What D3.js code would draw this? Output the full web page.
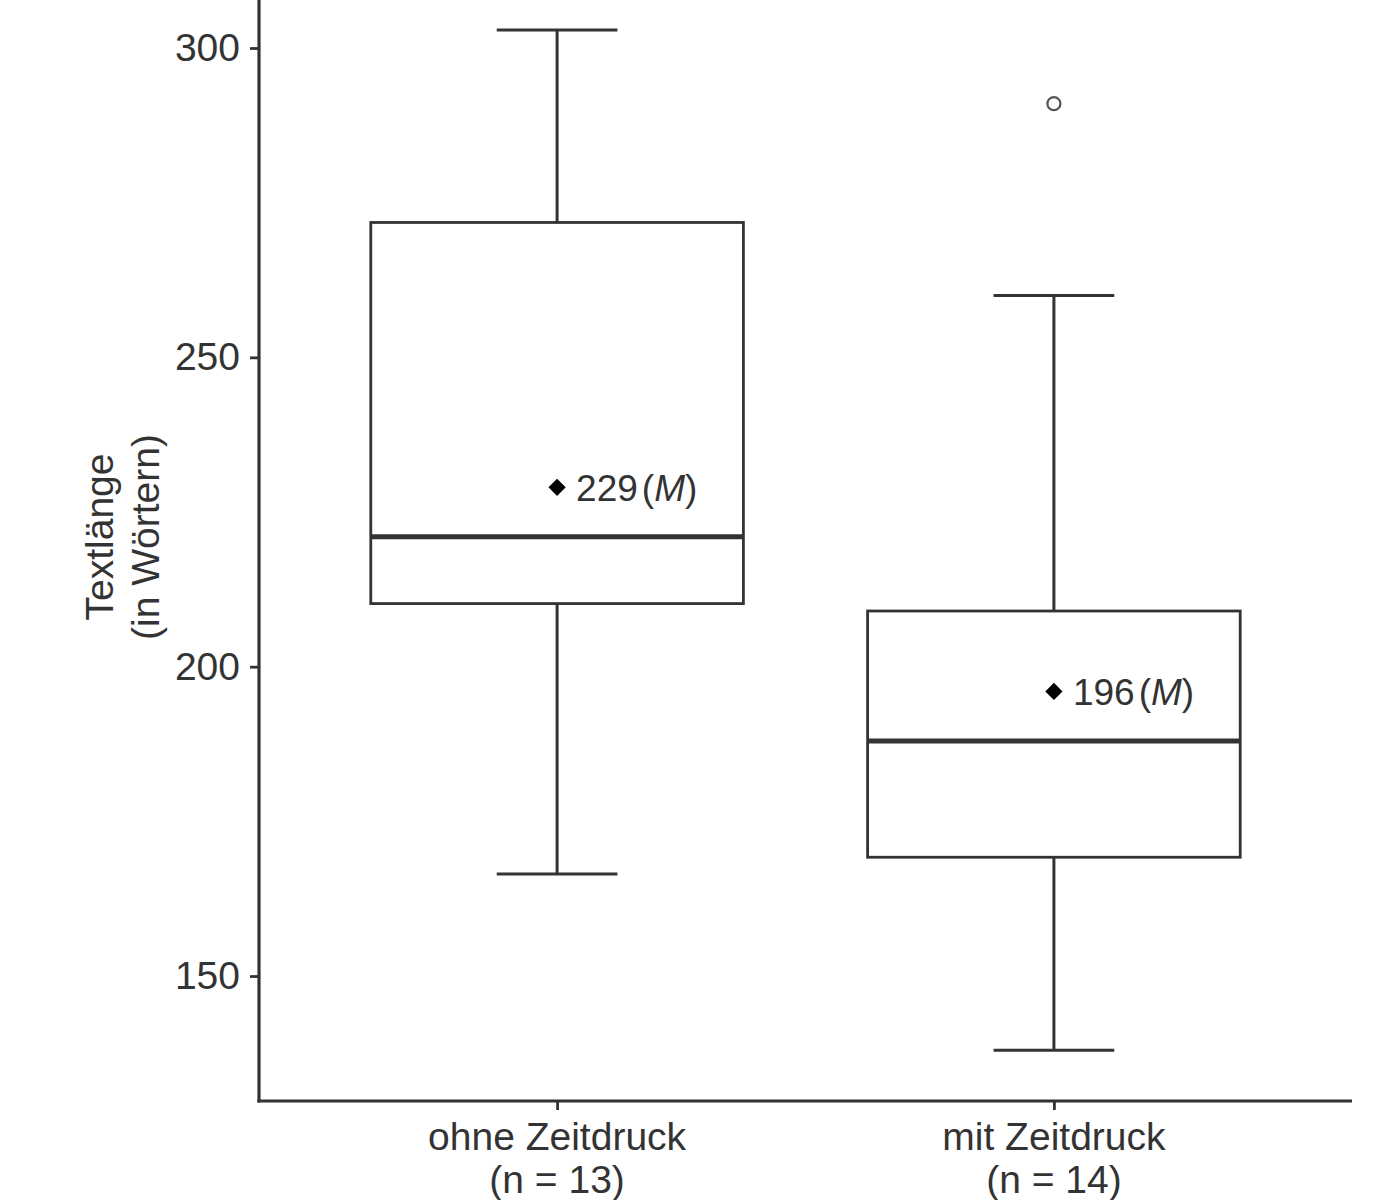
<!DOCTYPE html>
<html>
<head>
<meta charset="utf-8">
<script src="https://cdn.jsdelivr.net/npm/d3@7"></script>
<style>
  html, body { margin: 0; padding: 0; background: #ffffff; }
  svg { display: block; }
  text { font-family: "Liberation Sans", Arial, Helvetica, sans-serif; fill: #333333; }
</style>
</head>
<body>
<svg id="chart" width="1375" height="1200"></svg>
<script>
// ---- data ----
const categories = ["ohne Zeitdruck", "mit Zeitdruck"];
const nLabels = ["(n = 13)", "(n = 14)"];
const whiskerLow = [166.5, 138.0];
const q1 = [210.2, 169.2];
const median = [221.0, 188.0];
const q3 = [271.8, 209.0];
const whiskerHigh = [302.9, 260.0];
const means = [229, 196];
const meanLabels = ["229", "196"];
const outliers = [[], [291]];
const yTicks = [150, 200, 250, 300];
const yTitle = ["Textlänge", "(in Wörtern)"];

(function () {
  const svg = d3.select("#chart");
  const mLeft = 259, mRight = 1352, mTop = 0, mBottom = 1101;
  const ink = "#333333";

  const x = d3.scalePoint().domain(categories).range([mLeft, mRight]).padding(0.6);
  const y = d3.scaleLinear().domain([129.8, 307.76]).range([mBottom, mTop]);
  const step = x.step();
  const boxW = step * 0.75;
  const capW = step * 0.243;

  // axes
  const yAxis = d3.axisLeft(y).tickValues(yTicks).tickSize(9).tickPadding(10).tickSizeOuter(0);
  const gy = svg.append("g").attr("transform", `translate(${mLeft},0)`).call(yAxis);
  gy.select(".domain").remove();
  gy.selectAll(".tick line").attr("stroke", ink).attr("stroke-width", 2.8);
  gy.selectAll(".tick text").attr("font-size", 39).attr("fill", ink)
    .attr("font-family", "Liberation Sans, Arial, sans-serif");

  const xAxis = d3.axisBottom(x).tickSize(9).tickSizeOuter(0).tickFormat(() => "");
  const gx = svg.append("g").attr("transform", `translate(0,${mBottom})`).call(xAxis);
  gx.select(".domain").remove();
  gx.selectAll(".tick line").attr("stroke", ink).attr("stroke-width", 2.8);

  // axis lines
  svg.append("line").attr("x1", mLeft).attr("x2", mLeft).attr("y1", mTop).attr("y2", mBottom + 1.6)
    .attr("stroke", ink).attr("stroke-width", 3.2);
  svg.append("line").attr("x1", mLeft - 1.6).attr("x2", mRight).attr("y1", mBottom).attr("y2", mBottom)
    .attr("stroke", ink).attr("stroke-width", 3.2);

  // x labels
  categories.forEach((c, i) => {
    const t = svg.append("text").attr("text-anchor", "middle")
      .attr("font-size", 39).attr("fill", ink);
    t.append("tspan").attr("x", x(c)).attr("y", 1150).text(c);
    t.append("tspan").attr("x", x(c)).attr("y", 1193).text(nLabels[i]);
  });

  // y title
  yTitle.forEach((line, i) => {
    svg.append("text")
      .attr("transform", `translate(${113 + i * 46},537) rotate(-90)`)
      .attr("text-anchor", "middle").attr("font-size", 39).attr("fill", ink)
      .text(line);
  });

  // boxes
  const g = svg.append("g");
  categories.forEach((c, i) => {
    const cx = x(c);
    g.append("line").attr("x1", cx).attr("x2", cx).attr("y1", y(whiskerHigh[i])).attr("y2", y(q3[i]))
      .attr("stroke", ink).attr("stroke-width", 3);
    g.append("line").attr("x1", cx).attr("x2", cx).attr("y1", y(q1[i])).attr("y2", y(whiskerLow[i]))
      .attr("stroke", ink).attr("stroke-width", 3);
    [whiskerHigh[i], whiskerLow[i]].forEach(v => {
      g.append("line").attr("x1", cx - capW / 2).attr("x2", cx + capW / 2)
        .attr("y1", y(v)).attr("y2", y(v)).attr("stroke", ink).attr("stroke-width", 3);
    });
    g.append("rect").attr("x", cx - boxW / 2).attr("y", y(q3[i]))
      .attr("width", boxW).attr("height", y(q1[i]) - y(q3[i]))
      .attr("fill", "#ffffff").attr("stroke", ink).attr("stroke-width", 2.8);
    g.append("line").attr("x1", cx - boxW / 2).attr("x2", cx + boxW / 2)
      .attr("y1", y(median[i])).attr("y2", y(median[i])).attr("stroke", ink).attr("stroke-width", 5);
    outliers[i].forEach(v => {
      g.append("circle").attr("cx", cx).attr("cy", y(v)).attr("r", 6.5)
        .attr("fill", "none").attr("stroke", "#555555").attr("stroke-width", 2.2);
    });
    g.append("path").attr("d", d3.symbol().type(d3.symbolDiamond2).size(190)())
      .attr("transform", `translate(${cx},${y(means[i])})`).attr("fill", "#000000");
    const lbl = g.append("text").attr("x", cx + 19).attr("y", y(means[i]) + 14)
      .attr("font-size", 37).attr("fill", "#111111");
    lbl.append("tspan").text(meanLabels[i]);
    lbl.append("tspan").attr("dx", 4).text("(");
    lbl.append("tspan").attr("font-style", "italic").text("M");
    lbl.append("tspan").text(")");
  });
})();
</script>
</body>
</html>
